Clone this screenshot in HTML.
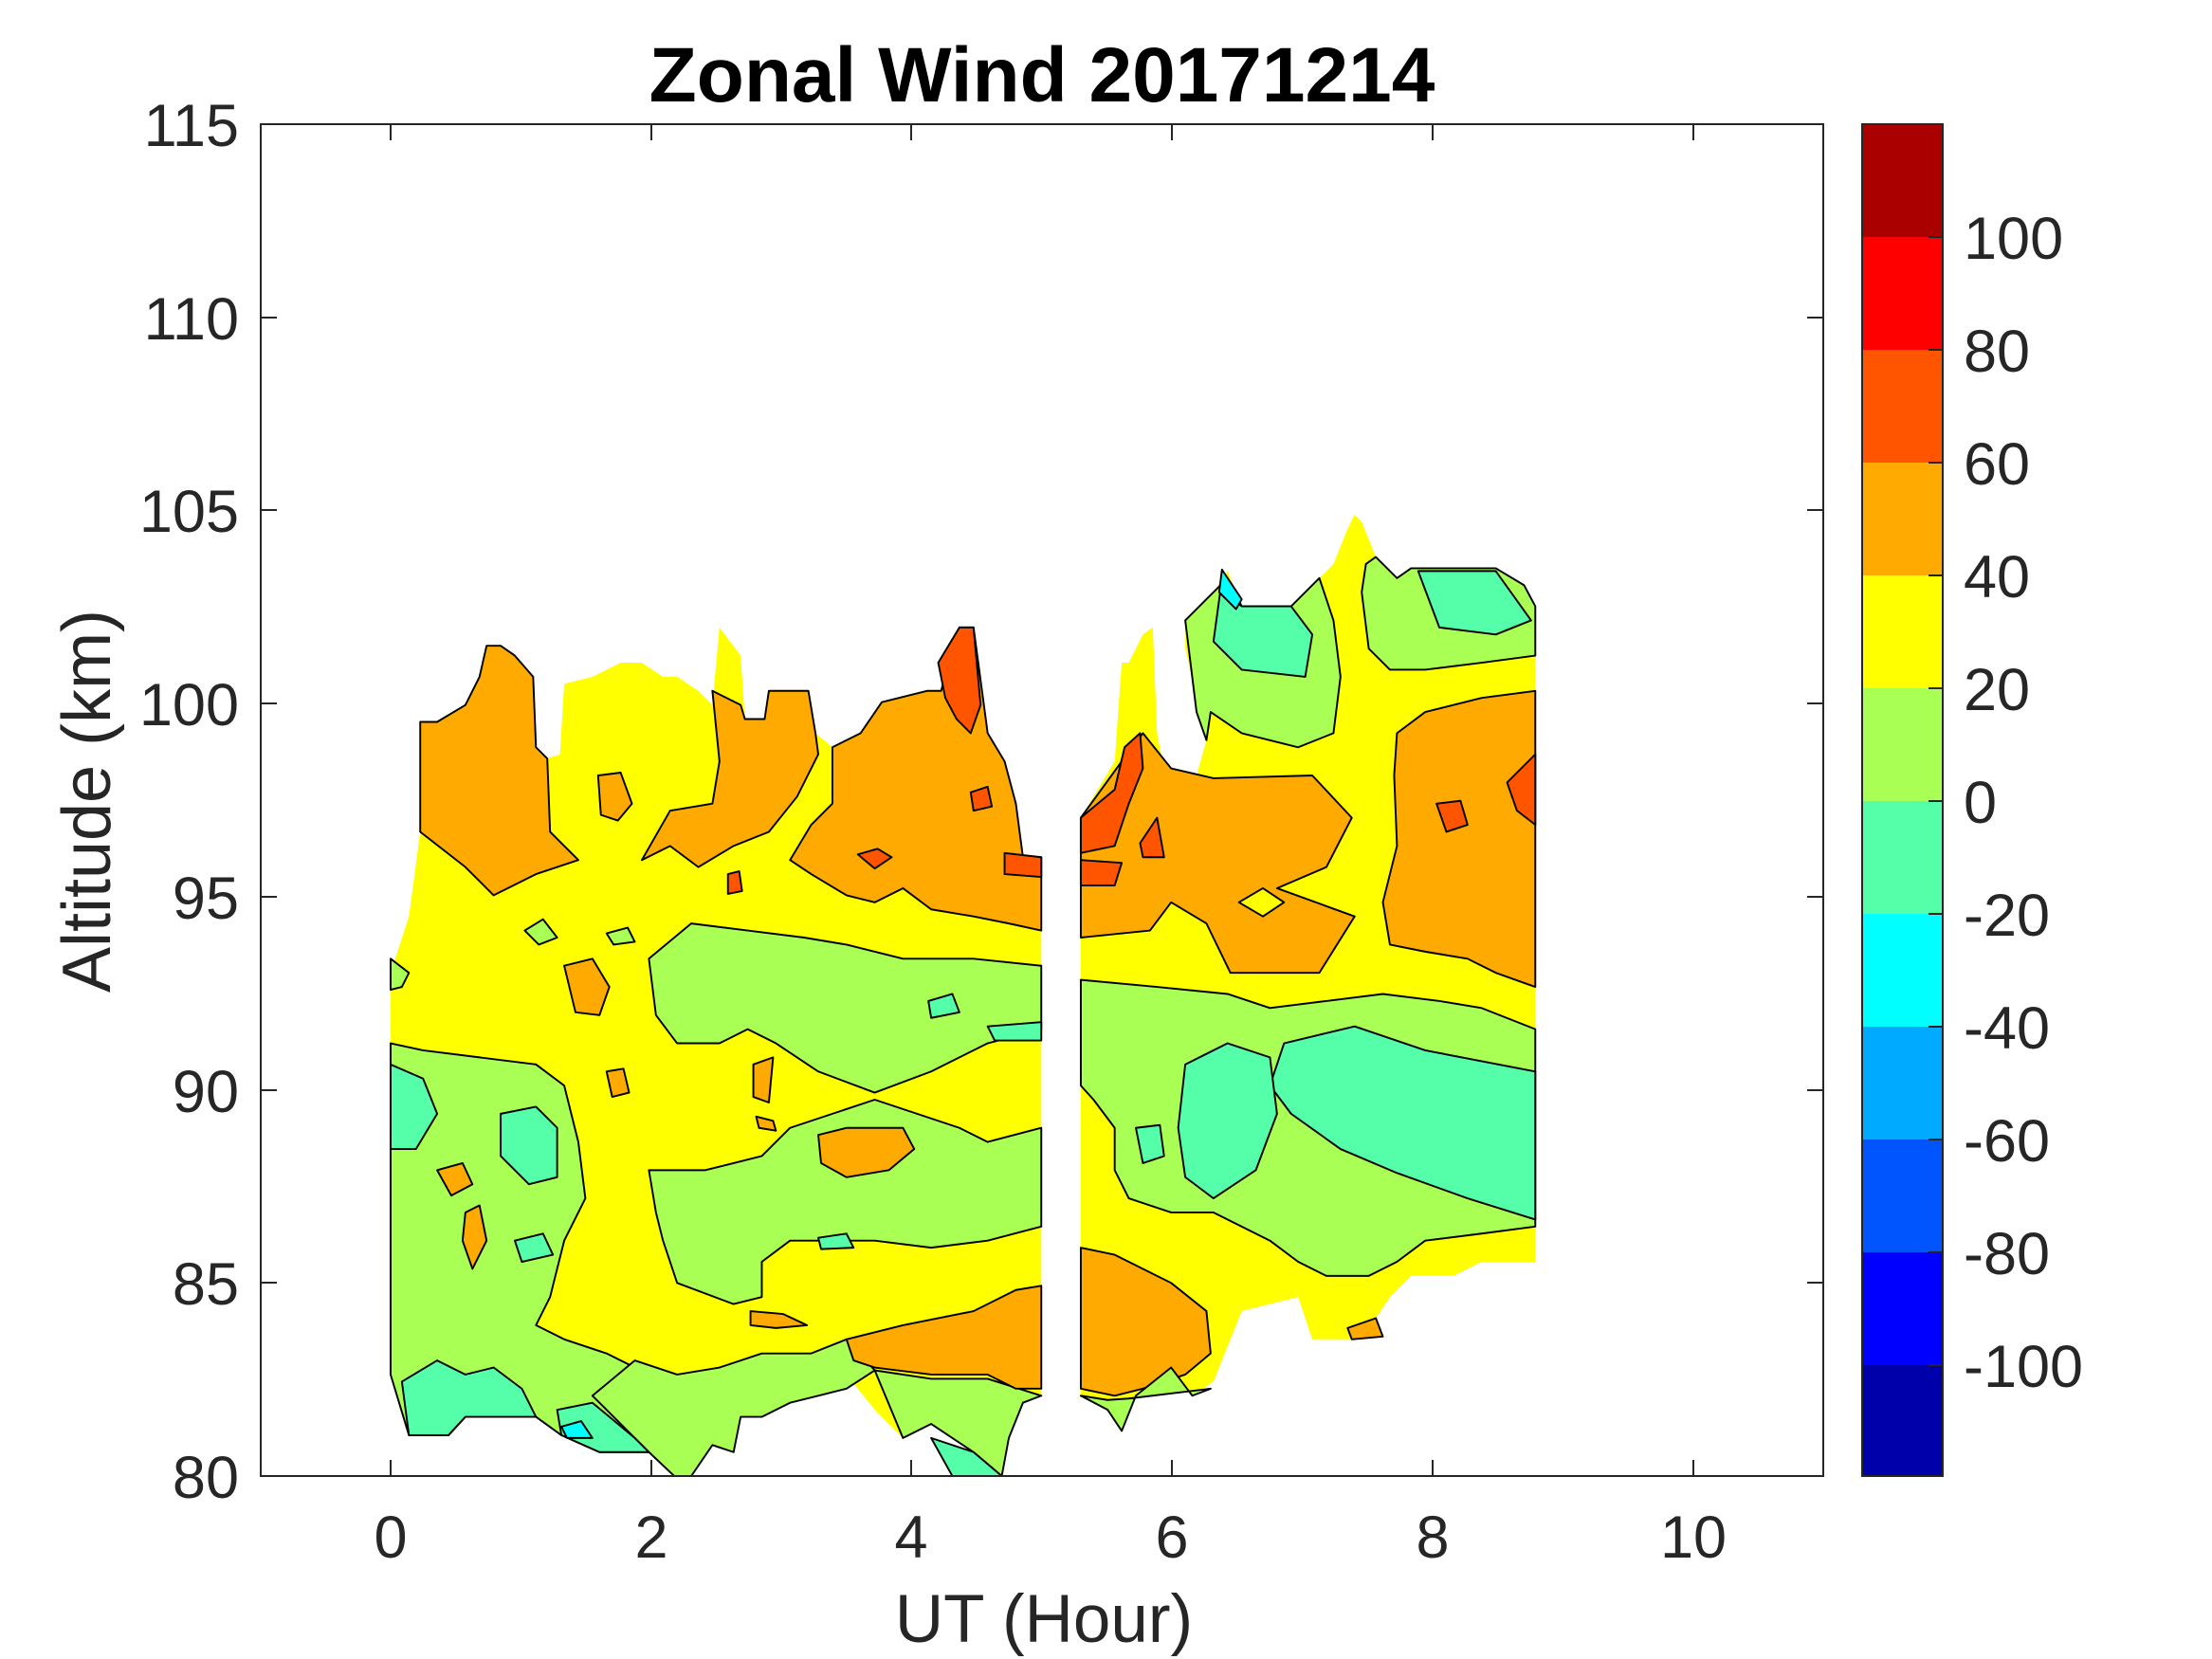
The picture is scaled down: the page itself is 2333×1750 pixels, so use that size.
<!DOCTYPE html>
<html><head><meta charset="utf-8"><style>
html,body{margin:0;padding:0;background:#fff;}
svg{display:block;}
text{font-family:"Liberation Sans",Arial,sans-serif;fill:#262626;}
</style></head><body>
<svg width="2333" height="1750" viewBox="0 0 2333 1750" xmlns="http://www.w3.org/2000/svg">
<rect width="2333" height="1750" fill="#fff"/>
<defs><clipPath id="cl"><rect x="185" y="88" width="1107" height="959"/></clipPath></defs>
<g transform="translate(275,131) scale(1.4887,1.487) translate(-185,-88)" clip-path="url(#cl)" stroke="#000" stroke-width="1.3" stroke-linejoin="round">
<polygon fill="#FFFF00" stroke="none" points="277,975 290,1018 318,1018 330,1005 380,1005 398,1018 425,1030 460,1030 478,1047 490,1047 505,1025 520,1030 525,1005 540,1005 560,995 580,990 600,975 620,1000 640,1020 660,1010 690,1030 710,1047 715,1020 725,995 738,990 738,608 725,608 720,570 712,540 700,520 690,445 680,445 667,490 657,490 640,500 625,498 610,520 600,525 590,530 578,520 573,490 545,490 542,510 528,510 525,465 510,445 505,500 495,490 480,480 470,480 455,470 440,470 420,480 400,485 397,535 388,538 380,530 378,480 365,465 355,458 345,458 340,480 330,500 310,512 298,512 298,590 290,650 277,690"/>
<polygon fill="#FFAA00" points="298,512 310,512 330,500 340,480 345,458 355,458 365,465 378,480 380,530 388,538 390,590 410,610 380,620 350,635 330,615 298,590"/>
<polygon fill="#FFAA00" points="505,490 525,500 528,510 542,510 545,490 573,490 578,520 580,535 565,565 545,590 520,600 495,615 475,600 455,610 475,575 505,570 510,540"/>
<polygon fill="#FFAA00" points="590,530 610,520 625,498 657,490 667,490 680,445 690,445 700,520 712,540 720,570 725,608 738,608 738,660 715,655 690,650 660,645 640,630 620,640 600,635 575,620 560,610 575,585 590,570"/>
<polygon fill="#FF5500" points="665,470 680,445 690,445 695,500 688,520 678,510 670,495"/>
<polygon fill="#FF5500" points="712,605 738,608 738,622 712,620"/>
<polygon fill="#FF5500" points="608,606 622,602 632,608 620,616"/>
<polygon fill="#FF5500" points="688,562 700,558 703,572 690,575"/>
<polygon fill="#FF5500" points="516,620 524,618 526,632 516,634"/>
<polygon fill="#FFAA00" points="424,550 440,548 448,570 438,582 426,578"/>
<polygon fill="#FFAA00" points="400,685 420,680 432,700 425,720 408,718"/>
<polygon fill="#FFAA00" points="527,676 545,672 555,688 540,696"/>
<polygon fill="#FFAA00" points="534,755 548,750 545,782 534,778"/>
<polygon fill="#FFAA00" points="532,930 555,932 572,940 550,942 532,940"/>
<polygon fill="#FFAA00" points="430,760 442,758 446,775 434,778"/>
<polygon fill="#FFAA00" points="536,792 548,795 550,802 538,800"/>
<polygon fill="#AAFF55" points="460,680 490,655 530,660 570,665 600,670 640,680 690,680 738,685 738,730 700,740 660,760 620,775 580,760 550,740 530,730 510,740 480,740 465,720"/>
<polygon fill="#AAFF55" points="277,740 300,745 340,750 380,755 400,770 410,810 415,850 400,880 390,920 380,940 400,950 430,960 450,970 470,1000 480,1030 460,1030 425,1030 398,1018 380,1005 330,1005 318,1018 290,1018 277,975"/>
<polygon fill="#AAFF55" points="460,830 500,830 540,820 560,800 590,790 620,780 680,800 700,810 738,800 738,870 700,880 660,885 620,880 580,880 560,880 540,895 540,920 520,925 480,910 470,880 465,860"/>
<polygon fill="#AAFF55" points="420,990 450,965 480,975 510,970 540,960 575,960 600,950 620,972 600,985 580,990 560,995 540,1005 525,1005 520,1030 505,1025 490,1047 478,1047 460,1030"/>
<polygon fill="#AAFF55" points="620,972 660,978 700,978 738,990 725,995 715,1020 710,1047 690,1030 660,1010 640,1020"/>
<polygon fill="#AAFF55" points="277,680 290,690 285,700 277,702"/>
<polygon fill="#AAFF55" points="372,660 385,652 395,665 382,670"/>
<polygon fill="#AAFF55" points="430,662 445,658 450,668 435,670"/>
<polygon fill="#FFAA00" points="600,950 640,940 690,930 720,915 738,912 738,985 720,985 700,975 660,975 620,970 605,965"/>
<polygon fill="#FFAA00" points="580,805 600,800 640,800 648,815 630,830 600,835 582,825"/>
<polygon fill="#FFAA00" points="310,830 328,825 335,840 320,848"/>
<polygon fill="#FFAA00" points="330,860 340,855 345,880 335,900 328,880"/>
<polygon fill="#55FFAA" points="277,755 300,765 310,790 295,815 277,815"/>
<polygon fill="#55FFAA" points="355,790 380,785 395,800 395,835 375,840 355,820"/>
<polygon fill="#55FFAA" points="365,880 385,875 392,890 370,895"/>
<polygon fill="#55FFAA" points="285,980 310,965 330,975 350,970 370,985 380,1005 330,1005 318,1018 290,1018"/>
<polygon fill="#55FFAA" points="395,1000 420,995 450,1020 460,1030 425,1030 398,1018"/>
<polygon fill="#55FFAA" points="660,1020 690,1030 710,1047 675,1047"/>
<polygon fill="#55FFAA" points="580,878 600,875 605,885 582,886"/>
<polygon fill="#55FFAA" points="658,710 675,705 680,718 660,722"/>
<polygon fill="#55FFAA" points="700,728 738,725 738,738 705,738"/>
<polygon fill="#00FFFF" points="398,1012 412,1008 420,1020 402,1020"/>
<polygon fill="#FFFF00" stroke="none" points="766,990 785,1000 795,1015 805,990 830,970 845,990 860,980 870,955 880,930 920,920 930,950 965,950 985,920 1000,905 1030,905 1050,895 1088,895 1088,430 1080,415 1060,403 1000,403 990,410 975,395 965,370 960,365 955,375 945,400 935,410 915,430 880,430 870,405 860,420 840,440 840,460 855,525 848,550 825,545 820,520 817,445 810,450 800,470 795,470 790,540 766,580"/>
<polygon fill="#AAFF55" points="840,440 860,420 870,410 880,430 915,430 935,410 945,440 950,480 945,520 920,530 880,520 858,505 855,525 848,505"/>
<polygon fill="#AAFF55" points="968,400 975,395 990,410 1000,403 1060,403 1080,415 1088,430 1088,465 1050,470 1010,475 985,475 970,460 965,420"/>
<polygon fill="#55FFAA" points="865,418 880,430 915,430 930,450 925,480 880,475 860,455"/>
<polygon fill="#55FFAA" points="1005,405 1060,405 1085,440 1060,450 1020,445"/>
<polygon fill="#00FFFF" points="866,404 880,425 876,432 864,420"/>
<polygon fill="#FFAA00" points="766,580 795,540 810,520 830,545 860,552 930,550 958,580 940,615 905,630 960,650 935,690 872,690 855,655 830,640 815,660 766,665"/>
<polygon fill="#FFFF00" points="878,640 895,630 910,640 895,650"/>
<polygon fill="#FF5500" points="766,580 790,560 797,530 808,520 810,545 800,570 790,600 766,605"/>
<polygon fill="#FF5500" points="766,610 795,612 790,628 766,628"/>
<polygon fill="#FF5500" points="808,598 820,580 825,608 810,608"/>
<polygon fill="#FFAA00" points="990,520 1010,505 1050,495 1088,490 1088,700 1060,690 1040,680 1010,675 985,670 980,640 990,600 988,550"/>
<polygon fill="#FF5500" points="1068,555 1088,535 1088,585 1075,575"/>
<polygon fill="#FF5500" points="1018,570 1035,568 1040,585 1025,590"/>
<polygon fill="#AAFF55" points="766,695 820,700 870,705 900,715 940,710 980,705 1020,710 1050,715 1088,730 1088,870 1050,875 1010,880 990,895 970,905 940,905 920,895 900,880 880,870 860,860 830,860 800,850 790,830 790,800 775,780 766,770"/>
<polygon fill="#55FFAA" points="910,740 960,728 1010,745 1088,760 1088,865 1040,850 990,832 950,815 915,790 900,770"/>
<polygon fill="#55FFAA" points="840,755 870,740 900,750 905,790 890,830 860,850 840,835 835,800"/>
<polygon fill="#55FFAA" points="805,800 822,798 825,820 810,825"/>
<polygon fill="#FFAA00" points="766,885 790,890 830,910 855,930 858,960 840,975 810,985 790,990 766,985"/>
<polygon fill="#AAFF55" points="766,990 785,1000 795,1015 805,990 830,970 845,990 858,985 800,992 785,993"/>
<polygon fill="#FFAA00" points="955,942 975,935 980,948 958,950"/>
</g>
<rect x="275" y="131" width="1648" height="1426" fill="none" stroke="#262626" stroke-width="2"/>
<g stroke="#262626" stroke-width="2">
<line x1="412" y1="1557" x2="412" y2="1540"/><line x1="687" y1="1557" x2="687" y2="1540"/><line x1="961" y1="1557" x2="961" y2="1540"/><line x1="1236" y1="1557" x2="1236" y2="1540"/><line x1="1511" y1="1557" x2="1511" y2="1540"/><line x1="1786" y1="1557" x2="1786" y2="1540"/>
<line x1="412" y1="131" x2="412" y2="148"/><line x1="687" y1="131" x2="687" y2="148"/><line x1="961" y1="131" x2="961" y2="148"/><line x1="1236" y1="131" x2="1236" y2="148"/><line x1="1511" y1="131" x2="1511" y2="148"/><line x1="1786" y1="131" x2="1786" y2="148"/>
<line x1="275" y1="1557" x2="292" y2="1557"/><line x1="275" y1="1353" x2="292" y2="1353"/><line x1="275" y1="1150" x2="292" y2="1150"/><line x1="275" y1="946" x2="292" y2="946"/><line x1="275" y1="742" x2="292" y2="742"/><line x1="275" y1="538" x2="292" y2="538"/><line x1="275" y1="335" x2="292" y2="335"/><line x1="275" y1="131" x2="292" y2="131"/>
<line x1="1923" y1="1353" x2="1906" y2="1353"/><line x1="1923" y1="1150" x2="1906" y2="1150"/><line x1="1923" y1="946" x2="1906" y2="946"/><line x1="1923" y1="742" x2="1906" y2="742"/><line x1="1923" y1="538" x2="1906" y2="538"/><line x1="1923" y1="335" x2="1906" y2="335"/>
</g>
<g font-size="63" text-anchor="end">
<text x="252" y="1580">80</text><text x="252" y="1376">85</text><text x="252" y="1173">90</text><text x="252" y="969">95</text><text x="252" y="765">100</text><text x="252" y="561">105</text><text x="252" y="358">110</text><text x="252" y="154">115</text>
</g>
<g font-size="63" text-anchor="middle">
<text x="412" y="1643">0</text><text x="687" y="1643">2</text><text x="961" y="1643">4</text><text x="1236" y="1643">6</text><text x="1511" y="1643">8</text><text x="1786" y="1643">10</text>
</g>
<text x="1101" y="1732" font-size="71" text-anchor="middle">UT (Hour)</text>
<text transform="translate(116,845) rotate(-90)" font-size="72" text-anchor="middle">Altitude (km)</text>
<text x="1099" y="107" font-size="82" font-weight="bold" text-anchor="middle" style="fill:#000">Zonal Wind 20171214</text>
<g>
<rect x="1964" y="131" width="85" height="119" fill="#AA0000"/>
<rect x="1964" y="250" width="85" height="119" fill="#FF0000"/>
<rect x="1964" y="369" width="85" height="119" fill="#FF5500"/>
<rect x="1964" y="488" width="85" height="119" fill="#FFAA00"/>
<rect x="1964" y="607" width="85" height="119" fill="#FFFF00"/>
<rect x="1964" y="726" width="85" height="119" fill="#AAFF55"/>
<rect x="1964" y="845" width="85" height="119" fill="#55FFAA"/>
<rect x="1964" y="964" width="85" height="119" fill="#00FFFF"/>
<rect x="1964" y="1083" width="85" height="119" fill="#00AAFF"/>
<rect x="1964" y="1202" width="85" height="119" fill="#0055FF"/>
<rect x="1964" y="1321" width="85" height="119" fill="#0000FF"/>
<rect x="1964" y="1440" width="85" height="117" fill="#0000AA"/>
<rect x="1964" y="131" width="85" height="1426" fill="none" stroke="#262626" stroke-width="2"/>
</g>
<g stroke="#262626" stroke-width="2">
<line x1="2049" y1="250" x2="2034" y2="250"/><line x1="2049" y1="369" x2="2034" y2="369"/><line x1="2049" y1="488" x2="2034" y2="488"/><line x1="2049" y1="607" x2="2034" y2="607"/><line x1="2049" y1="726" x2="2034" y2="726"/><line x1="2049" y1="845" x2="2034" y2="845"/><line x1="2049" y1="964" x2="2034" y2="964"/><line x1="2049" y1="1083" x2="2034" y2="1083"/><line x1="2049" y1="1202" x2="2034" y2="1202"/><line x1="2049" y1="1321" x2="2034" y2="1321"/><line x1="2049" y1="1440" x2="2034" y2="1440"/>
</g>
<g font-size="63">
<text x="2071" y="273">100</text><text x="2071" y="392">80</text><text x="2071" y="511">60</text><text x="2071" y="630">40</text><text x="2071" y="749">20</text><text x="2071" y="868">0</text><text x="2071" y="987">-20</text><text x="2071" y="1106">-40</text><text x="2071" y="1225">-60</text><text x="2071" y="1344">-80</text><text x="2071" y="1463">-100</text>
</g>
</svg>
</body></html>
